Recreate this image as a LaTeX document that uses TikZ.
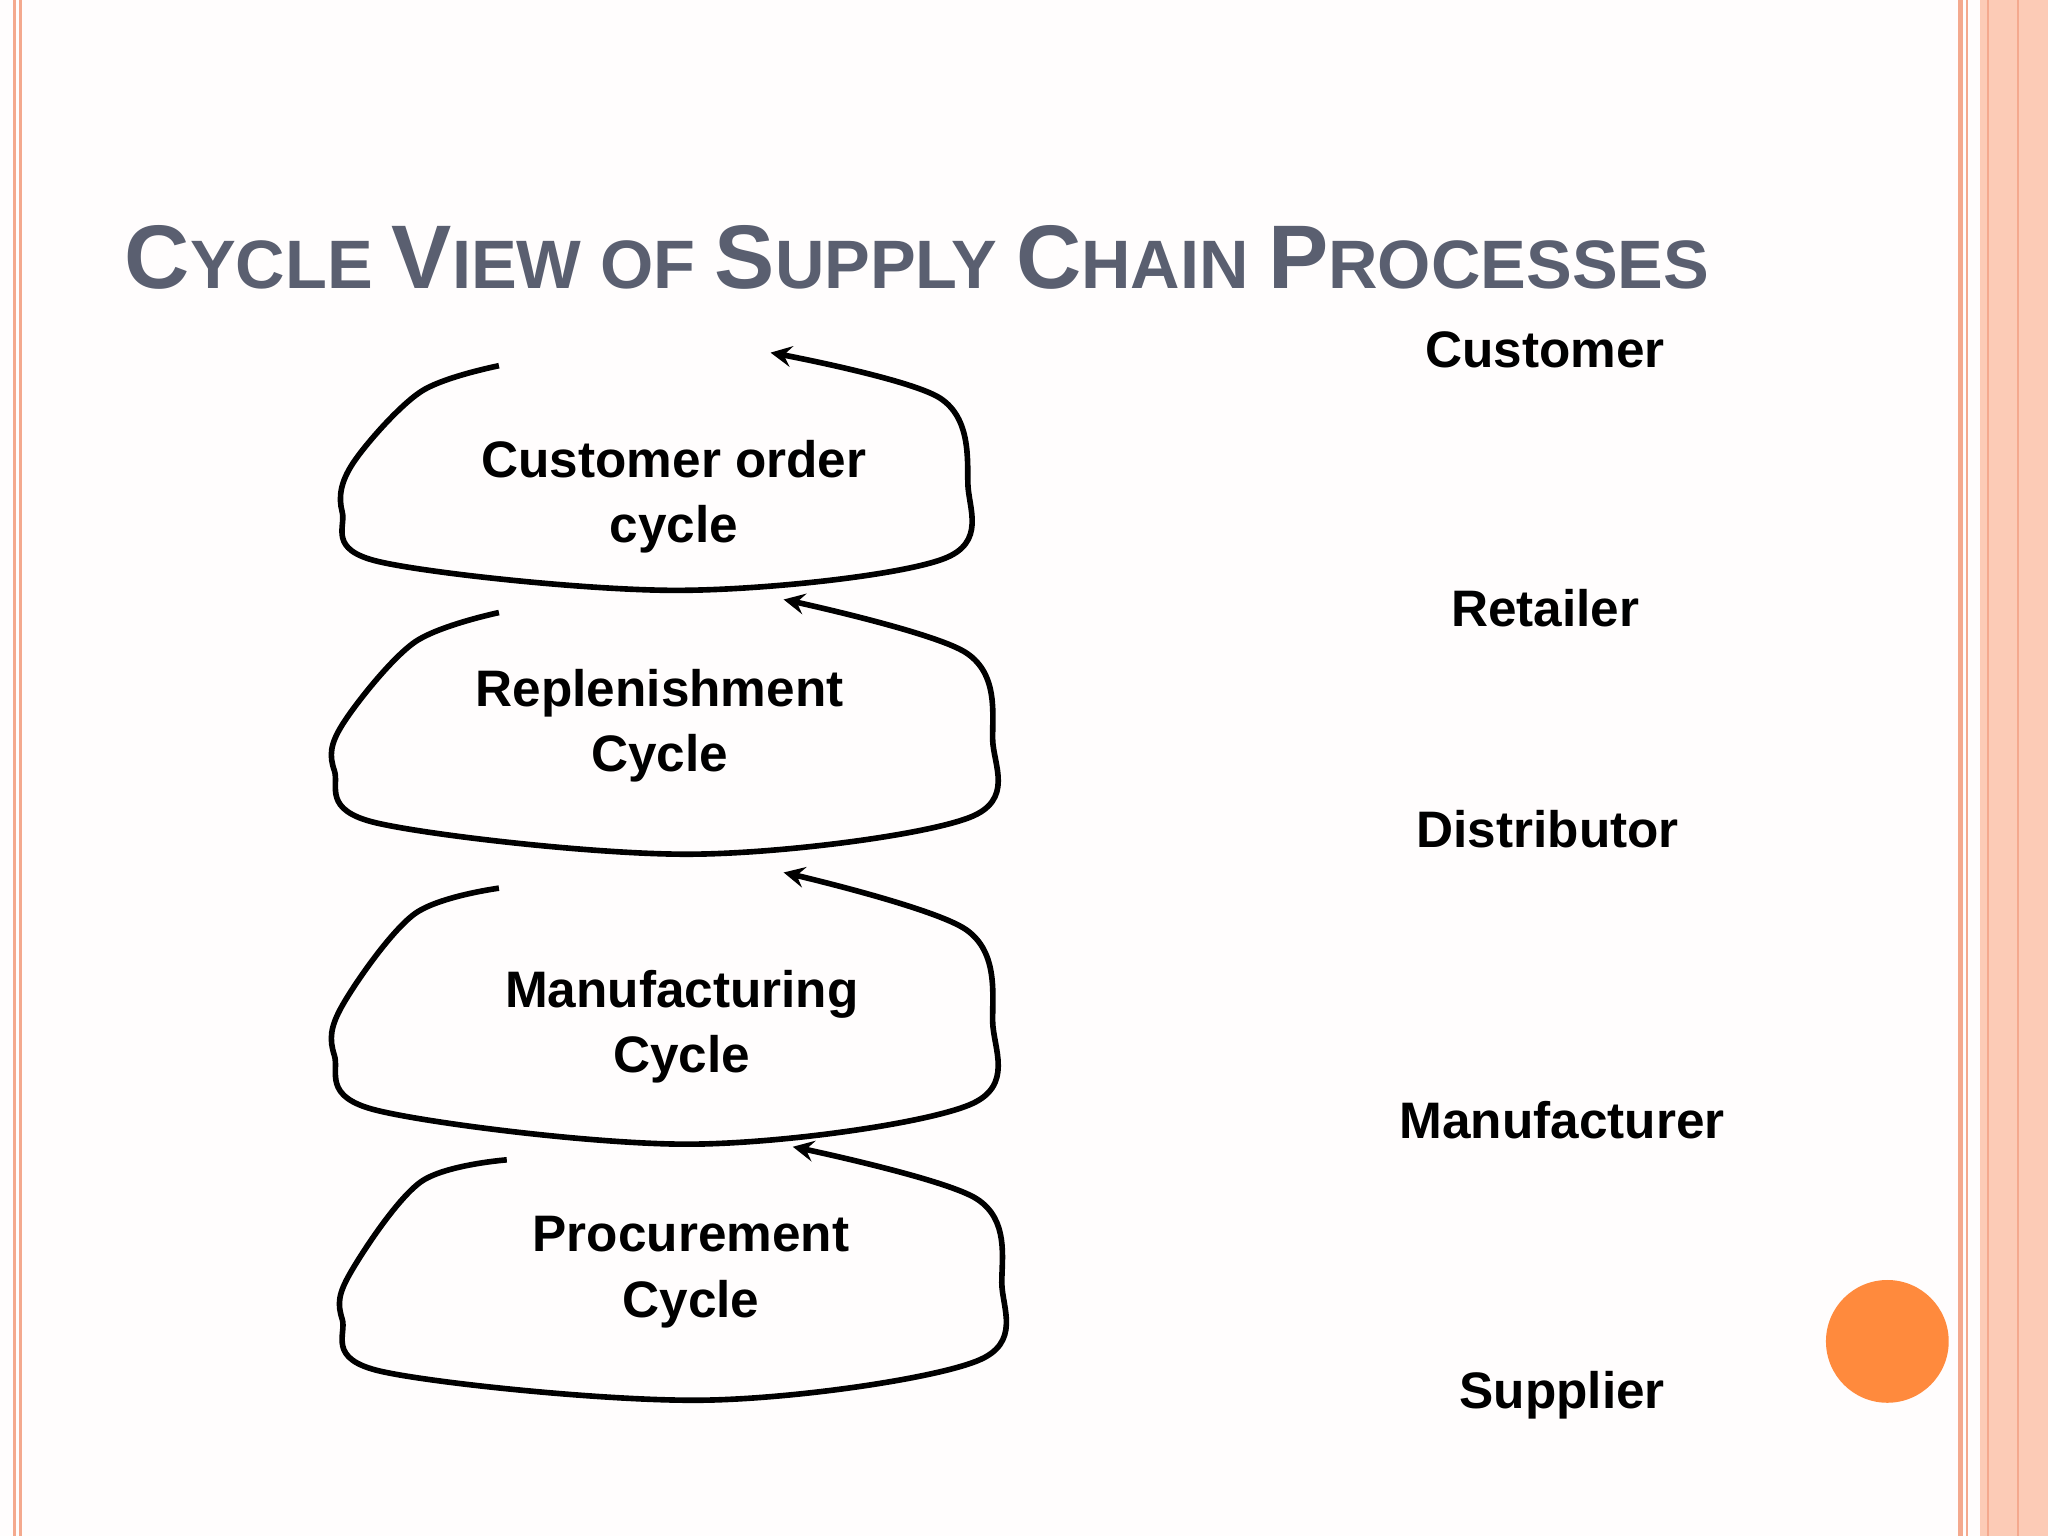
\documentclass[tikz,border=0pt]{standalone}
\usepackage{fontspec}
\setmainfont{Liberation Sans}
\definecolor{salmon}{HTML}{F4A98E}
\definecolor{salmonlt}{HTML}{FCCBB6}
\definecolor{titlegray}{HTML}{5A5F70}
\definecolor{dotorange}{HTML}{FF8A3D}
\begin{document}
\begin{tikzpicture}[x=0.013061cm,y=-0.013061cm,
  lbl/.style={font=\fontsize{14.6}{18.5}\selectfont\bfseries,align=center},
  cyc/.style={line width=1.6pt,-stealth,smooth,tension=0.55}]
\useasboundingbox (0,0) rectangle (1568,1176);
\fill[white!97!salmonlt] (0,0) rectangle (1568,1176);
% borders
\draw[salmon,line width=0.8pt] (11,0) -- (11,1176);
\draw[salmon,line width=0.8pt] (16,0) -- (16,1176);
\draw[salmon,line width=1.2pt] (1501,0) -- (1501,1176);
\draw[salmon,line width=0.8pt] (1506,0) -- (1506,1176);
\fill[salmonlt] (1516,0) rectangle (1568,1176);
\draw[salmon,line width=0.8pt] (1522,0) -- (1522,1176);
\draw[salmon,line width=0.8pt] (1545,0) -- (1545,1176);
\fill[dotorange] (1445,1027) circle (47);
% title
\node[anchor=base west,text=titlegray,font=\bfseries,inner sep=0] (title) at (95,221)
 {\fontsize{25.7}{30}\selectfont C\fontsize{19.5}{23}\selectfont YCLE \fontsize{25.7}{30}\selectfont V\fontsize{19.5}{23}\selectfont IEW OF \fontsize{25.7}{30}\selectfont S\fontsize{19.5}{23}\selectfont UPPLY \fontsize{25.7}{30}\selectfont C\fontsize{19.5}{23}\selectfont HAIN \fontsize{25.7}{30}\selectfont P\fontsize{19.5}{23}\selectfont ROCESSES};
% stages
\node[lbl] (cust) at (1183,268) {Customer};
\node[lbl] (ret) at (1183,466) {Retailer};
\node[lbl] (dist) at (1185,635) {Distributor};
\node[lbl] (manu) at (1196,858) {Manufacturer};
\node[lbl] (supp) at (1196,1068) {Supplier};
% cycles
\node[lbl] (c1) at (516,380) {Customer order\\cycle};
\node[lbl] (c2) at (505,556) {Replenishment\\Cycle};
\node[lbl] (c3) at (522,786) {Manufacturing\\Cycle};
\node[lbl] (c4) at (529,974) {Procurement\\Cycle};
\draw[cyc] plot coordinates {(382,280) (322,300) (270,355) (262,392) (290,430) (520,452) (722,428) (741,370) (720,305) (590,270)};
\draw[cyc] plot coordinates {(382,469) (317,492) (262,555) (256,590) (288,630) (530,654) (742,626) (760,566) (740,500) (600,459)};
\draw[cyc] plot coordinates {(382,680) (317,700) (262,770) (256,808) (288,850) (530,876) (742,846) (760,782) (740,712) (600,668)};
\draw[cyc] plot coordinates {(388,888) (322,905) (268,975) (262,1010) (292,1050) (540,1072) (748,1042) (767,982) (748,918) (607,878)};
\end{tikzpicture}
\end{document}
